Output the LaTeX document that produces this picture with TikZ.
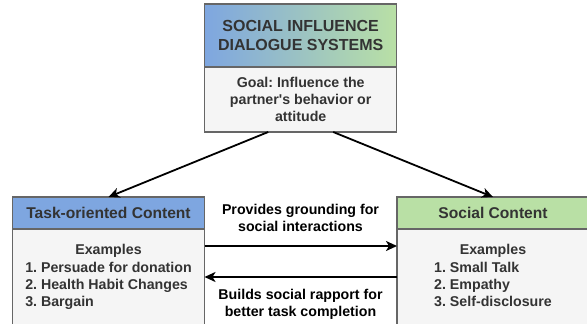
\documentclass[tikz,border=0pt]{standalone}
\usepackage{fontspec}
\setmainfont{Liberation Sans}
\usetikzlibrary{positioning,arrows.meta}
\frenchspacing
\definecolor{hdblue}{HTML}{7EA6E0}
\definecolor{hdgreen}{HTML}{B9E0A5}
\definecolor{bodygray}{HTML}{F5F5F5}
\definecolor{linegray}{HTML}{666666}
\definecolor{txtgray}{HTML}{333333}
\tikzset{
  box/.style={rectangle, draw=linegray, line width=1.2pt, outer sep=0pt,
    minimum width=192pt, text=txtgray, font=\bfseries\fontsize{14.2}{17.2}\selectfont},
  head/.style={box, minimum height=32pt, font=\bfseries\fontsize{15.6}{18}\selectfont},
  body/.style={box, fill=bodygray, text height=20pt, text depth=100pt, inner ysep=6pt},
  link/.style={line width=1.8pt, -{Stealth[length=11pt,width=10pt,inset=3pt]}},
  note/.style={font=\bfseries\fontsize{14.2}{17.5}\selectfont, align=center}
}

\begin{document}
\begin{tikzpicture}[x=1pt,y=1pt]
  \useasboundingbox (0,0) rectangle (587,324);
  \clip (0,0) rectangle (587,324);
  \node (sid) [box, left color=hdblue, right color=hdgreen, minimum height=63pt,
    align=center, font=\bfseries\fontsize{16}{19}\selectfont]
    at (300.7,288.5) {SOCIAL INFLUENCE\\DIALOGUE SYSTEMS};
  \node (goal) [box, fill=bodygray, minimum height=65pt, align=center, below=0pt of sid]
    {Goal: Influence the\\partner\textquotesingle s behavior or\\attitude};
  \node (taskhd) [head, fill=hdblue] at (108.5,111) {Task-oriented Content};
  \node (taskbd) [body, below=0pt of taskhd]
    {\begin{tabular}[t]{@{}l@{}}\multicolumn{1}{c}{Examples}\\1. Persuade for donation\\
      2. Health Habit Changes\\3. Bargain\end{tabular}};
  \node (sochd) [head, fill=hdgreen] at (493,111) {Social Content};
  \node (socbd) [body, below=0pt of sochd]
    {\begin{tabular}[t]{@{}l@{}}\multicolumn{1}{c}{Examples}\\1. Small Talk\\
      2. Empathy\\3. Self-disclosure\end{tabular}};
  \node (prov) [note] at (300.5,106) {Provides grounding for\\social interactions};
  \node (build) [note] at (300.5,19.5) {Builds social rapport for\\better task completion};
  \draw[link] ([xshift=-32.5pt]goal.south) -- (taskhd.north);
  \draw[link] ([xshift=32.5pt]goal.south) -- (sochd.north);
  \draw[link] ([yshift=-17pt]taskbd.north east) -- ([yshift=-17pt]socbd.north west);
  \draw[link] ([yshift=-48pt]socbd.north west) -- ([yshift=-48pt]taskbd.north east);
\end{tikzpicture}
\end{document}
